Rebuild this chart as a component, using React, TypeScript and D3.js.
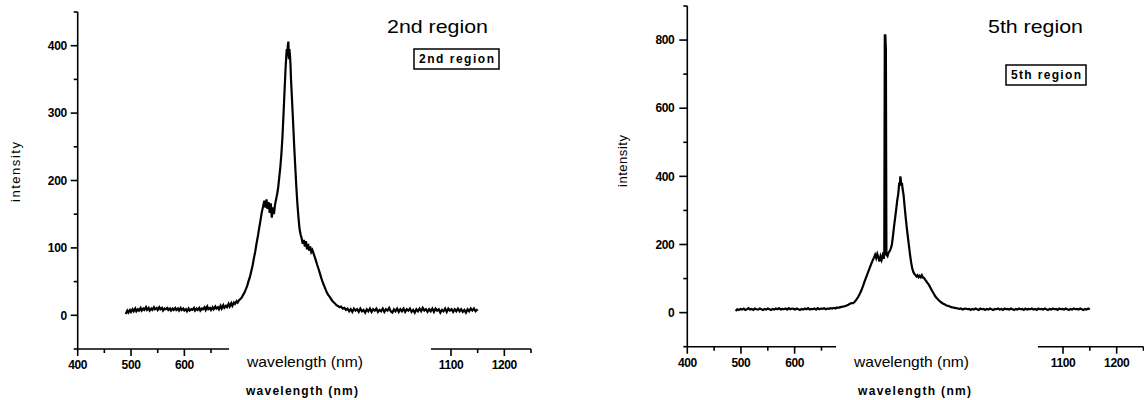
import React from "react";
import * as d3 from "d3";

// ---------- data ----------
const xMajorTicks = [400, 500, 600, 700, 800, 900, 1000, 1100, 1200];
const xMinorTicks = [450, 550, 650, 750, 850, 950, 1050, 1150, 1250];
const region2YMajor = [0, 100, 200, 300, 400];
const region2YMinor = [-50, 50, 150, 250, 350, 450];
const region5YMajor = [0, 200, 400, 600, 800];
const region5YMinor = [-100, 100, 300, 500, 700, 900];

const xAxisTitle = "wavelength (nm)";
const yAxisTitle = "intensity";
const region2Title = "2nd  region";
const region5Title = "5th  region";
const region2Legend = "2nd region";
const region5Legend = "5th region";

// [wavelength nm, intensity]
const region2: [number, number][] = [
  [490, 2], [493, 7], [495, 4], [498, 8], [500, 5], [503, 9], [505, 6], [508, 10], [510, 6], [513, 9],
  [515, 7], [518, 11], [520, 7], [523, 10], [525, 8], [528, 12], [530, 8], [533, 11], [535, 7], [538, 10],
  [540, 8], [543, 12], [545, 9], [548, 11], [550, 8], [553, 12], [555, 9], [558, 11], [560, 7], [563, 10],
  [565, 9], [568, 11], [570, 8], [573, 10], [575, 7], [578, 10], [580, 8], [583, 11], [585, 8], [588, 10],
  [590, 7], [593, 11], [595, 8], [598, 10], [600, 7], [603, 9], [605, 6], [608, 10], [610, 7], [613, 9],
  [615, 8], [618, 11], [620, 7], [623, 10], [625, 8], [628, 11], [630, 7], [633, 10], [635, 9], [638, 12],
  [640, 8], [643, 13], [645, 9], [648, 11], [650, 8], [653, 12], [655, 9], [658, 13], [660, 10], [663, 12],
  [665, 9], [668, 14], [670, 10], [673, 15], [675, 11], [678, 14], [680, 12], [683, 17], [685, 13], [688, 18],
  [690, 14], [693, 19], [695, 17], [698, 21], [700, 19], [703, 23], [705, 24], [708, 27], [710, 30], [713, 34],
  [715, 38], [718, 44], [720, 50], [723, 57], [725, 64], [728, 74], [730, 83], [733, 95], [735, 105], [738, 118],
  [740, 128], [743, 142], [745, 152], [748, 163], [750, 170], [752, 160], [754, 172], [756, 158], [758, 168],
  [760, 152], [762, 166], [764, 145], [766, 160], [768, 150], [770, 164], [772, 172], [774, 180], [776, 190],
  [778, 205], [780, 220], [782, 240], [784, 265], [786, 300], [788, 335], [790, 370], [792, 395], [793, 384],
  [794, 400], [795, 406], [796, 380], [797, 395], [798, 386], [799, 372], [800, 350], [802, 318], [804, 285],
  [806, 250], [808, 220], [810, 190], [812, 165], [814, 145], [816, 128], [818, 120], [820, 114], [822, 106],
  [824, 112], [826, 102], [828, 110], [830, 98], [832, 106], [834, 96], [836, 102], [838, 94], [840, 97],
  [843, 90], [846, 83], [849, 75], [852, 68], [855, 60], [858, 52], [861, 46], [864, 40], [867, 34],
  [870, 30], [873, 27], [876, 23], [879, 20], [882, 18], [885, 15], [888, 14], [891, 12], [894, 13],
  [897, 10], [900, 11], [903, 8], [906, 10], [909, 6], [912, 9], [915, 5], [918, 10], [921, 7], [924, 9],
  [927, 5], [930, 10], [933, 6], [936, 8], [939, 4], [942, 9], [945, 6], [948, 10], [951, 5], [954, 9],
  [957, 7], [960, 10], [963, 5], [966, 8], [969, 6], [972, 10], [975, 5], [978, 9], [981, 7], [984, 11],
  [987, 6], [990, 4], [993, 9], [996, 6], [999, 10], [1002, 5], [1005, 9], [1008, 6], [1011, 10], [1014, 5],
  [1017, 9], [1020, 7], [1023, 10], [1026, 5], [1029, 8], [1032, 4], [1035, 9], [1038, 6], [1041, 10],
  [1044, 6], [1047, 11], [1050, 7], [1053, 9], [1056, 5], [1059, 9], [1062, 6], [1065, 10], [1068, 5],
  [1071, 10], [1074, 7], [1077, 9], [1080, 4], [1083, 8], [1086, 6], [1089, 10], [1092, 5], [1095, 10],
  [1098, 7], [1101, 9], [1104, 5], [1107, 9], [1110, 6], [1113, 10], [1116, 6], [1119, 9], [1122, 5],
  [1125, 8], [1128, 4], [1131, 9], [1134, 6], [1137, 10], [1140, 7], [1143, 10], [1146, 6], [1150, 9],
];

const region5: [number, number][] = [
  [490, 5], [493, 10], [496, 8], [499, 11], [502, 9], [505, 12], [508, 8], [511, 10], [514, 13], [517, 9],
  [520, 11], [523, 8], [526, 12], [529, 10], [532, 9], [535, 12], [538, 10], [541, 8], [544, 11], [547, 9],
  [550, 12], [553, 10], [556, 8], [559, 11], [562, 9], [565, 12], [568, 10], [571, 13], [574, 9], [577, 11],
  [580, 10], [583, 12], [586, 9], [589, 13], [592, 10], [595, 12], [598, 11], [601, 9], [604, 12], [607, 10],
  [610, 8], [613, 11], [616, 9], [619, 12], [622, 10], [625, 13], [628, 9], [631, 11], [634, 10], [637, 12],
  [640, 9], [643, 13], [646, 10], [649, 12], [652, 11], [655, 13], [658, 10], [661, 12], [664, 11], [667, 13],
  [670, 12], [673, 14], [676, 12], [679, 15], [682, 14], [685, 16], [688, 17], [691, 18], [694, 19], [697, 21],
  [700, 23], [703, 26], [706, 28], [709, 28], [712, 32], [715, 38], [718, 45], [721, 54], [724, 64], [727, 76],
  [730, 90], [733, 103], [736, 115], [739, 128], [742, 140], [745, 152], [748, 162], [750, 170], [752, 160],
  [754, 172], [756, 162], [758, 150], [760, 165], [762, 155], [764, 168], [766, 158], [767, 172], [768, 814],
  [769, 814], [770, 772], [771, 170], [773, 166], [775, 176], [777, 180], [779, 188], [781, 198], [783, 222],
  [785, 250], [787, 275], [789, 300], [791, 328], [793, 348], [795, 382], [796, 372], [797, 400], [798, 388],
  [799, 376], [800, 380], [801, 365], [803, 345], [805, 310], [807, 278], [809, 248], [811, 222], [813, 196],
  [815, 170], [817, 148], [819, 130], [821, 120], [823, 114], [825, 110], [827, 106], [829, 110], [831, 104],
  [833, 108], [835, 104], [837, 110], [839, 103], [841, 102], [843, 97], [845, 93], [847, 88], [850, 82],
  [853, 73], [856, 64], [859, 56], [862, 48], [865, 42], [868, 37], [871, 33], [874, 29], [877, 26],
  [880, 24], [883, 21], [886, 20], [889, 18], [892, 16], [895, 15], [898, 14], [901, 13], [904, 12],
  [907, 11], [910, 12], [913, 9], [916, 11], [919, 12], [922, 10], [925, 11], [928, 8], [931, 11], [934, 9],
  [937, 12], [940, 10], [943, 8], [946, 12], [949, 10], [952, 11], [955, 8], [958, 11], [961, 9], [964, 12],
  [967, 10], [970, 8], [973, 11], [976, 10], [979, 12], [982, 9], [985, 11], [988, 8], [991, 12], [994, 10],
  [997, 11], [1000, 9], [1003, 12], [1006, 10], [1009, 8], [1012, 11], [1015, 9], [1018, 12], [1021, 10],
  [1024, 11], [1027, 8], [1030, 12], [1033, 9], [1036, 11], [1039, 10], [1042, 12], [1045, 9], [1048, 11],
  [1051, 8], [1054, 12], [1057, 10], [1060, 11], [1063, 9], [1066, 12], [1069, 10], [1072, 8], [1075, 11],
  [1078, 9], [1081, 12], [1084, 10], [1087, 11], [1090, 8], [1093, 12], [1096, 10], [1099, 11], [1102, 9],
  [1105, 12], [1108, 10], [1111, 8], [1114, 11], [1117, 9], [1120, 12], [1123, 10], [1126, 11], [1129, 9],
  [1132, 12], [1135, 10], [1138, 8], [1141, 11], [1144, 9], [1147, 12], [1150, 10],
];

// ---------- component ----------
const BLOCK_FONT = "'Liberation Sans', Arial, sans-serif";
const CLEAN_FONT = "'Liberation Sans', Arial, sans-serif";

type PanelProps = {
  data: [number, number][];
  xRange: [number, number];
  yDomain: [number, number];
  yRange: [number, number];
  yMajor: number[];
  yMinor: number[];
  majorLen: number;
  labelGap: number;
  gap: { x: number; w: number };
  title: string;
  titlePos: { x: number; y: number; len: number };
  legend: string;
  legendBox: { x: number; y: number; w: number; h: number };
  yTitlePos: { x: number; y: number; len: number };
  xTitleClean: { x: number; len: number };
  xTitleBlock: { x: number; len: number };
};

function Panel(p: PanelProps) {
  const x = d3.scaleLinear().domain([400, 1250]).range(p.xRange);
  const y = d3.scaleLinear().domain(p.yDomain).range(p.yRange);
  const line = d3
    .line<[number, number]>()
    .x((d) => x(d[0]))
    .y((d) => y(d[1]));
  const x0 = p.xRange[0];
  const yb = p.yRange[0];
  const sw = 1.6;
  // tick labels whose centre falls under the white patch are not visible
  const visibleXLabels = xMajorTicks.filter(
    (v) => x(v) + 10 < p.gap.x || x(v) - 10 > p.gap.x + p.gap.w
  );
  return (
    <g>
      {/* data */}
      <path d={line(p.data) || ""} fill="none" stroke="#000" strokeWidth={2.2} strokeLinejoin="miter" />
      {/* y axis */}
      <line x1={x0} x2={x0} y1={p.yRange[0]} y2={p.yRange[1]} stroke="#000" strokeWidth={sw} />
      {p.yMajor.map((v) => (
        <g key={"ym" + v}>
          <line x1={x0 - p.majorLen} x2={x0} y1={y(v)} y2={y(v)} stroke="#000" strokeWidth={sw} />
          <text
            x={x0 - p.labelGap}
            y={y(v)}
            dy="0.35em"
            textAnchor="end"
            fontFamily={BLOCK_FONT}
            fontWeight="bold"
            fontSize={12}
            letterSpacing={-0.4}
          >
            {v}
          </text>
        </g>
      ))}
      {p.yMinor.map((v) => (
        <line key={"yn" + v} x1={x0 - 4} x2={x0} y1={y(v)} y2={y(v)} stroke="#000" strokeWidth={sw} />
      ))}
      {/* x axis */}
      <line x1={p.xRange[0]} x2={p.xRange[1]} y1={yb} y2={yb} stroke="#000" strokeWidth={sw} />
      {xMajorTicks.map((v) => (
        <line key={"xt" + v} x1={x(v)} x2={x(v)} y1={yb} y2={yb + 7} stroke="#000" strokeWidth={sw} />
      ))}
      {visibleXLabels.map((v) => (
        <text
          key={"xl" + v}
          x={x(v)}
          y={yb + 16}
          dy="0.35em"
          textAnchor="middle"
          fontFamily={BLOCK_FONT}
          fontWeight="bold"
          fontSize={12}
          letterSpacing={-0.4}
        >
          {v}
        </text>
      ))}
      {xMinorTicks.map((v) => (
        <line key={"xn" + v} x1={x(v)} x2={x(v)} y1={yb} y2={yb + 4} stroke="#000" strokeWidth={sw} />
      ))}
      {/* white patch hiding part of the axis */}
      <rect x={p.gap.x} y={338} width={p.gap.w} height={42} fill="#fff" />
      {/* axis titles */}
      <text
        x={p.xTitleClean.x}
        y={367}
        fontFamily={CLEAN_FONT}
        fontSize={15}
        textLength={p.xTitleClean.len}
        lengthAdjust="spacingAndGlyphs"
      >
        {xAxisTitle}
      </text>
      <text
        x={p.xTitleBlock.x}
        y={395}
        fontFamily={BLOCK_FONT}
        fontWeight="bold"
        fontSize={12}
        textLength={p.xTitleBlock.len}
        lengthAdjust="spacing"
      >
        {xAxisTitle}
      </text>
      <text
        transform={`translate(${p.yTitlePos.x},${p.yTitlePos.y}) rotate(-90)`}
        textAnchor="middle"
        dy="0.35em"
        fontFamily={CLEAN_FONT}
        fontSize={13}
        textLength={p.yTitlePos.len}
        lengthAdjust="spacing"
      >
        {yAxisTitle}
      </text>
      {/* titles */}
      <text
        x={p.titlePos.x}
        y={p.titlePos.y}
        fontFamily={CLEAN_FONT}
        fontSize={19}
        textLength={p.titlePos.len}
        lengthAdjust="spacingAndGlyphs"
      >
        {p.title}
      </text>
      <rect
        x={p.legendBox.x}
        y={p.legendBox.y}
        width={p.legendBox.w}
        height={p.legendBox.h}
        fill="#fff"
        stroke="#000"
        strokeWidth={1.5}
      />
      <text
        x={p.legendBox.x + 5}
        y={p.legendBox.y + p.legendBox.h / 2}
        dy="0.35em"
        fontFamily={BLOCK_FONT}
        fontWeight="bold"
        fontSize={12}
        textLength={p.legendBox.w - 10}
        lengthAdjust="spacing"
      >
        {p.legend}
      </text>
    </g>
  );
}

export default function App() {
  return (
    <svg
      width={1144}
      height={400}
      style={{ position: "absolute", left: 0, top: 0, display: "block", background: "#fff" }}
    >
      <rect x={0} y={0} width={1144} height={400} fill="#fff" />
      <Panel
        data={region2}
        xRange={[77.7, 531]}
        yDomain={[-50, 450]}
        yRange={[349, 12]}
        yMajor={region2YMajor}
        yMinor={region2YMinor}
        majorLen={7}
        labelGap={11}
        gap={{ x: 229, w: 202 }}
        title={region2Title}
        titlePos={{ x: 387, y: 33, len: 101 }}
        legend={region2Legend}
        legendBox={{ x: 414, y: 49, w: 85, h: 20 }}
        yTitlePos={{ x: 15, y: 172, len: 60 }}
        xTitleClean={{ x: 247, len: 116 }}
        xTitleBlock={{ x: 246, len: 112 }}
      />
      <Panel
        data={region5}
        xRange={[687.3, 1143.5]}
        yDomain={[-100, 900]}
        yRange={[346.7, 6]}
        yMajor={region5YMajor}
        yMinor={region5YMinor}
        majorLen={8}
        labelGap={13}
        gap={{ x: 836, w: 202 }}
        title={region5Title}
        titlePos={{ x: 988, y: 33, len: 95 }}
        legend={region5Legend}
        legendBox={{ x: 1006, y: 65, w: 80, h: 20 }}
        yTitlePos={{ x: 622, y: 161, len: 52 }}
        xTitleClean={{ x: 854, len: 115 }}
        xTitleBlock={{ x: 858, len: 113 }}
      />
    </svg>
  );
}
